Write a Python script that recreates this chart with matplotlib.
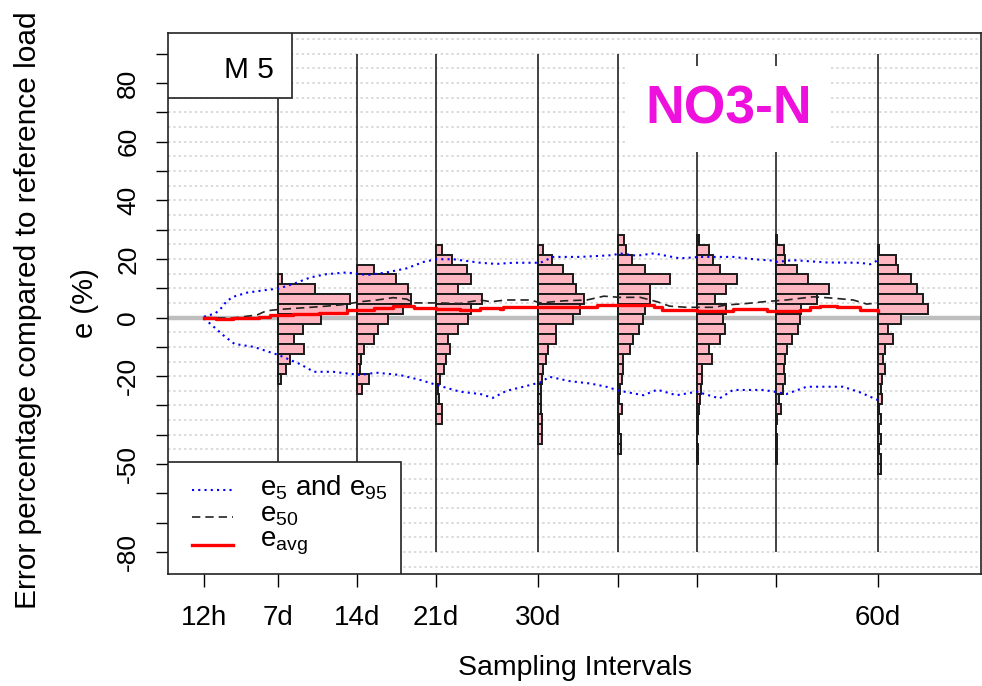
import matplotlib
matplotlib.use("Agg")
import matplotlib.pyplot as plt
from matplotlib.patches import Rectangle

plt.rcParams["font.family"] = ["Liberation Sans", "DejaVu Sans"]
plt.rcParams["axes.unicode_minus"] = False
plt.rcParams["mathtext.fontset"] = "custom"
plt.rcParams["mathtext.rm"] = "Liberation Sans"

# sampling intervals (days) and their tick labels
intervals = [0.5, 7, 14, 21, 30, 37, 44, 51, 60]
interval_labels = ["12h", "7d", "14d", "21d", "30d", "", "", "", "60d"]

# y axis ticks and labelled values
ytick_vals = list(range(-80, 91, 10))
ytick_shown = [80, 60, 40, 20, 0, -20, -50, -80]

# histograms of e (%): bin k spans BIN_0 + BIN_W*k .. BIN_0 + BIN_W*(k+1)
BIN_W = 3.4
BIN_0 = 1.1
HIST_SCALE = 1 / 11.33  # bar length (days) per frequency unit
hist_days = [7, 14, 21, 30, 37, 44, 51, 60]
hist_top_bin = [3, 4, 6, 6, 7, 7, 7, 6]
hist_7d = [4, 37, 72, 69, 43, 25, 16, 26, 12, 8, 3]
hist_14d = [17, 39, 51, 54, 46, 31, 21, 17, 7, 4, 3, 12, 5]
hist_21d = [6, 16, 31, 35, 22, 46, 35, 32, 22, 12, 14, 10, 8, 4, 1.3, 2.3, 5.7, 5.7]
hist_30d = [5, 14, 25, 35, 38, 46, 42, 35, 18, 18, 10, 8, 5, 4, 3, 3, 3, 4, 4, 4]
hist_37d = [6, 8, 14, 27, 52, 32, 32, 27, 25, 21, 15, 12, 5, 5, 4, 2, 1, 4, 1, 1, 3, 3]
hist_44d = [2, 12, 16, 23, 40, 29, 18, 29, 26, 28, 23, 12, 15, 5, 5, 4, 3, 2, 1, 1, 0, 1, 1]
hist_51d = [1, 8, 9, 21, 32, 53, 41, 25, 24, 22, 16, 11, 9, 8, 9, 7, 3, 5, 1, 0, 1, 1, 1]
hist_60d = [1, 18, 20, 33, 39, 45, 50, 23, 10, 15, 7, 5, 7, 4, 3, 4, 1, 3, 1, 3, 1, 3, 3]
hist_freqs = [hist_7d, hist_14d, hist_21d, hist_30d, hist_37d, hist_44d, hist_51d, hist_60d]

# e95 / e5 percentiles
e95_day = [0.5, 1.5, 2.1, 2.5, 3.1, 4.3, 6.0, 7.1, 8.4, 9.9, 11.3, 13.1, 14.9, 16.6,
           18.4, 19.9, 21.0, 22.5, 24.9, 26.3, 27.8, 30.2, 31.3, 33.7, 36.6, 37.2,
           38.7, 40.2, 42.5, 44.3, 47.2, 49.0, 50.8, 51.1, 52.5, 55.5, 58.4, 59.3, 60.0]
e95_val = [0.3, 1.4, 3.5, 5.6, 7.1, 8.5, 9.4, 9.9, 11.5, 13.7, 14.8, 15.4, 14.5, 15.4,
           16.8, 19.0, 19.9, 19.9, 18.7, 18.3, 18.7, 18.7, 20.7, 20.7, 21.3, 21.9,
           21.1, 21.9, 20.2, 20.7, 20.7, 19.9, 19.4, 19.0, 19.6, 18.8, 18.7, 18.2, 19.6]
e5_day = [0.5, 1.3, 2.2, 3.2, 4.9, 7.1, 9.0, 10.2, 11.9, 14.3, 15.7, 17.8, 19.6, 21.3,
          23.1, 24.9, 26.0, 27.2, 28.7, 30.2, 31.0, 32.8, 34.6, 36.0, 37.2, 39.3,
          40.5, 42.2, 44.0, 46.0, 47.2, 49.9, 51.3, 51.9, 53.7, 56.9, 58.4, 60.0]
e5_val = [-0.3, -2.9, -6.0, -9.0, -10.0, -12.8, -15.9, -18.5, -18.5, -19.6, -18.8, -19.6,
          -21.3, -23.3, -25.3, -26.1, -27.4, -25.0, -23.6, -22.1, -20.2, -21.7, -22.5,
          -23.6, -25.0, -26.5, -24.6, -26.5, -25.3, -27.6, -24.7, -24.7, -25.6, -26.1,
          -23.6, -23.6, -25.5, -28.2]

# e50 median
e50_day = [0.5, 3.0, 5.2, 6.0, 7.2, 8.4, 9.9, 11.3, 12.5, 13.4, 14.3, 15.8, 17.2, 18.4,
           19.0, 21.0, 23.1, 24.9, 25.8, 27.2, 29.3, 30.2, 32.2, 34.3, 35.8, 37.2, 39.0,
           40.5, 41.6, 43.1, 45.5, 46.6, 48.4, 49.9, 51.9, 54.3, 56.1, 57.8, 59.0, 60.0]
e50_val = [0.0, -0.2, 0.9, 2.3, 2.8, 3.1, 3.5, 3.9, 4.3, 4.8, 5.4, 6.0, 6.8, 6.3,
           5.0, 5.0, 4.8, 6.0, 5.4, 6.0, 6.0, 5.0, 5.7, 6.0, 7.3, 6.9, 6.9,
           5.4, 3.9, 3.5, 3.5, 4.3, 4.8, 5.4, 6.0, 7.1, 6.6, 6.0, 4.6, 5.0]

# eavg mean
eavg_day = [0.5, 1.6, 3.1, 5.4, 6.3, 8.4, 10.7, 13.1, 15.5, 17.2, 19.0, 21.0, 23.1, 24.9,
            26.6, 26.9, 30.8, 34.0, 35.2, 36.6, 40.2, 40.9, 44.0, 47.2, 50.2, 51.3,
            53.1, 54.0, 54.9, 56.4, 58.4, 60.0]
eavg_val = [0.0, -0.6, -0.3, 0.3, 0.9, 1.1, 1.6, 2.6, 3.3, 3.9, 3.3, 2.8, 2.6, 3.1,
            2.8, 3.5, 3.5, 3.5, 4.3, 4.3, 3.7, 2.6, 2.3, 2.8, 2.3, 2.3,
            2.6, 3.5, 3.9, 3.5, 2.6, 2.3]

fig = plt.figure(figsize=(9.82, 6.86), dpi=100)
ax = fig.add_axes([168 / 982, 1 - 574 / 686, 813 / 982, 541 / 686])
ax.set_xlim(-2.67, 69.08)
ax.set_ylim(-87.5, 97.1)

# dotted horizontal grid every 5 %
for g in range(-85, 96, 5):
    ax.axhline(g, color="#d0d0d0", lw=1.1, ls=(0, (1.5, 2)), zorder=0)

ax.axhline(0, color="#bebebe", lw=3.2, zorder=1)

# vertical lines at each sampling interval with a histogram
ax.vlines(hist_days, -80, 90, color="#222222", lw=1.2, zorder=1.5)

for day, top, freqs in zip(hist_days, hist_top_bin, hist_freqs):
    bottoms = [BIN_0 + BIN_W * (top - j) for j in range(len(freqs))]
    widths = [f * HIST_SCALE for f in freqs]
    ax.barh(bottoms, widths, left=day, height=BIN_W, align="edge",
            color="#ffb6c1", edgecolor="#1a1a1a", lw=1.4, zorder=2)

ax.plot(e95_day, e95_val, color="blue", lw=1.5, ls=(0, (1, 2)), zorder=4)
ax.plot(e5_day, e5_val, color="blue", lw=1.5, ls=(0, (1, 2)), zorder=4)
ax.plot(e50_day, e50_val, color="#222222", lw=1.2, ls=(0, (5, 3)), zorder=4)
ax.plot(eavg_day, eavg_val, color="red", lw=2.4, drawstyle="steps-post", zorder=5)

ax.set_xticks(intervals)
ax.set_xticklabels(interval_labels)
ax.set_yticks(ytick_vals)
ax.set_yticklabels([str(v) if v in ytick_shown else "" for v in ytick_vals],
                   rotation=90, va="center")
ax.tick_params(axis="both", length=9, width=1)
ax.tick_params(axis="x", labelsize=20, pad=13)
ax.tick_params(axis="y", labelsize=19, pad=11)
for s in ax.spines.values():
    s.set_linewidth(1.2)
    s.set_color("#222222")

fig.text(574.5 / 982, 1 - 668 / 686, "Sampling Intervals", ha="center", va="center",
         fontsize=20.5)
fig.text(28 / 982, 1 - 310 / 686, "Error percentage compared to reference load",
         rotation=90, ha="center", va="center", fontsize=21.5)
fig.text(85 / 982, 1 - 303 / 686, "e (%)", rotation=90, ha="center", va="center",
         fontsize=21)

# "M 5" label box
ax.add_patch(Rectangle((0, 1), 124 / 813, -65 / 541, transform=ax.transAxes,
                       facecolor="white", edgecolor="#222222", lw=1.2, zorder=6))
ax.text(106 / 813, 1 - 37 / 541, "M 5", transform=ax.transAxes, ha="right",
        va="center", fontsize=21.5, zorder=7)

ax.text((729 - 168) / 813, 1 - 76 / 541, "NO3-N", transform=ax.transAxes,
        ha="center", va="center", fontsize=38.5, fontweight="bold", color="#ee10dc",
        bbox=dict(boxstyle="square,pad=0.33", fc="white", ec="none"), zorder=6)

# legend
ax.add_patch(Rectangle((0, 0), 233 / 813, 112 / 541, transform=ax.transAxes,
                       facecolor="white", edgecolor="#222222", lw=1.2, zorder=6))
leg_rows = [
    ("blue", (0, (1, 2)), 1.5, r"e$_5$ and e$_{95}$", 84),
    ("#222222", (0, (5, 3)), 1.2, r"e$_{50}$", 57),
    ("red", "-", 2.4, r"e$_{\mathrm{avg}}$", 29),
]
for col, ls, lw, lab, ypx in leg_rows:
    ax.plot([24 / 813, 65 / 813], [ypx / 541, ypx / 541], transform=ax.transAxes,
            color=col, ls=ls, lw=lw, zorder=7, clip_on=False)
    ax.text(92 / 813, (ypx + 2) / 541, lab, transform=ax.transAxes, ha="left",
            va="center", fontsize=20, zorder=7)

fig.savefig("out.png", dpi=100)
